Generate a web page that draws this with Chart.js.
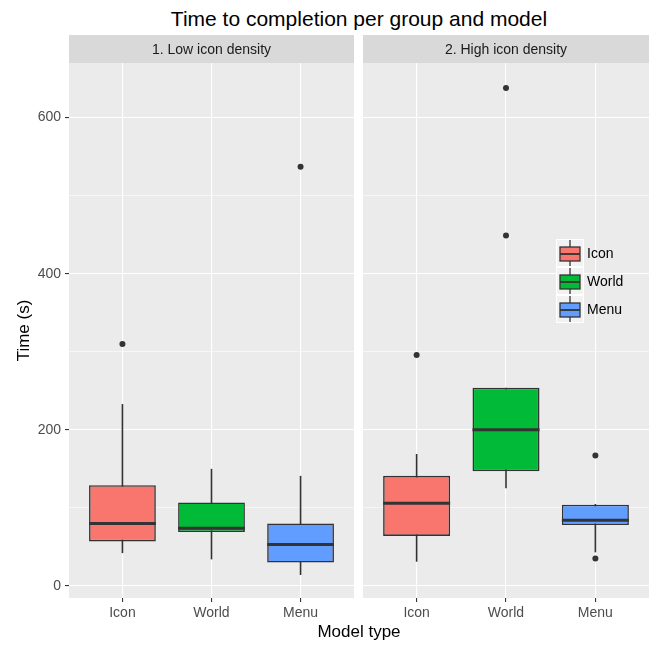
<!DOCTYPE html>
<html>
<head>
<meta charset="utf-8">
<script src="https://cdn.jsdelivr.net/npm/chart.js@4/dist/chart.umd.min.js"></script>
<style>
  body { margin: 0; background: #fff; width: 649px; height: 646px; position: relative; overflow: hidden;
         font-family: "Liberation Sans", Arial, sans-serif; }
  canvas { position: absolute; top: 0; }
  #left { left: 0; }
  #right { left: 358px; }
  .txt { position: absolute; white-space: nowrap; line-height: 1; color: #000; transform: translateX(-50%); }
  #title { left: 359px; top: 8px; font-size: 21px; }
  #xtitle { left: 359px; top: 623px; font-size: 17px; }
</style>
</head>
<body>
<div id="title" class="txt">Time to completion per group and model</div>
<canvas id="left" width="358" height="646"></canvas>
<canvas id="right" width="291" height="646"></canvas>
<div id="xtitle" class="txt">Model type</div>
<script>
const categories = ['Icon', 'World', 'Menu'];
const facetTitles = ['1. Low icon density', '2. High icon density'];
const boxColors = ['#F8766D', '#00BA38', '#619CFF'];
const yTicks = [0, 100, 200, 300, 400, 500, 600];

// 1. Low icon density
const lowWhiskerMin = [42, 34, 14];
const lowQ1 = [57, 69, 30];
const lowMedian = [80, 74, 53];
const lowQ3 = [129, 107, 80];
const lowWhiskerMax = [233, 150, 141];
const lowOutliers = [[310], [], [537]];

// 2. High icon density
const highWhiskerMin = [31, 125, 43];
const highQ1 = [64, 147, 78];
const highMedian = [106, 200, 84];
const highQ3 = [141, 254, 104];
const highWhiskerMax = [169, 254, 105];
const highOutliers = [[296], [449, 638], [35, 167]];

const FONT = '"Liberation Sans", Arial, sans-serif';
const INK = '#333333';

// panel background + facet strip
const panelPlugin = {
  id: 'panel',
  beforeDraw(chart, args, opts) {
    const { ctx, chartArea: a } = chart;
    ctx.save();
    ctx.fillStyle = '#EBEBEB';
    ctx.fillRect(a.left, a.top, a.right - a.left, a.bottom - a.top);
    ctx.fillStyle = '#D9D9D9';
    ctx.fillRect(a.left, opts.stripTop, a.right - a.left, a.top - opts.stripTop);
    ctx.fillStyle = '#1A1A1A';
    ctx.font = '14px ' + FONT;
    ctx.textAlign = 'center';
    ctx.textBaseline = 'middle';
    ctx.fillText(opts.text, (a.left + a.right) / 2, (opts.stripTop + a.top) / 2 + 1);
    ctx.restore();
  }
};

// whiskers under the boxes, medians on top
const boxplotPlugin = {
  id: 'boxplot',
  beforeDatasetsDraw(chart) {
    const ds = chart.data.datasets[0];
    const meta = chart.getDatasetMeta(0);
    const y = chart.scales.y;
    const ctx = chart.ctx;
    ctx.save();
    ctx.strokeStyle = INK;
    ctx.lineWidth = 1.6;
    meta.data.forEach((bar, i) => {
      ctx.beginPath();
      ctx.moveTo(bar.x, y.getPixelForValue(ds.whiskerMax[i]));
      ctx.lineTo(bar.x, y.getPixelForValue(ds.whiskerMin[i]));
      ctx.stroke();
    });
    ctx.restore();
  },
  afterDatasetsDraw(chart) {
    const ds = chart.data.datasets[0];
    const meta = chart.getDatasetMeta(0);
    const y = chart.scales.y;
    const ctx = chart.ctx;
    ctx.save();
    ctx.strokeStyle = INK;
    ctx.lineWidth = 3;
    meta.data.forEach((bar, i) => {
      const py = y.getPixelForValue(ds.median[i]);
      ctx.beginPath();
      ctx.moveTo(bar.x - bar.width / 2, py);
      ctx.lineTo(bar.x + bar.width / 2, py);
      ctx.stroke();
    });
    ctx.restore();
  }
};

// legend drawn inside the right panel
const keyLegendPlugin = {
  id: 'keyLegend',
  afterDraw(chart, args, opts) {
    if (!opts.show) return;
    const ctx = chart.ctx;
    const x0 = opts.x, y0 = opts.y, k = 28;
    ctx.save();
    categories.forEach((c, i) => {
      const ky = y0 + i * k;
      ctx.fillStyle = '#F2F2F2';
      ctx.fillRect(x0, ky, k, k);
      ctx.strokeStyle = '#FFFFFF';
      ctx.lineWidth = 1;
      ctx.strokeRect(x0 + 0.5, ky + 0.5, k - 1, k - 1);
      ctx.strokeStyle = INK;
      ctx.lineWidth = 1.3;
      ctx.beginPath();
      ctx.moveTo(x0 + k / 2, ky + 1);
      ctx.lineTo(x0 + k / 2, ky + k - 1);
      ctx.stroke();
      ctx.fillStyle = boxColors[i];
      ctx.fillRect(x0 + 4, ky + 8, k - 8, k - 14);
      ctx.strokeRect(x0 + 4, ky + 8, k - 8, k - 14);
      ctx.lineWidth = 1.8;
      ctx.beginPath();
      ctx.moveTo(x0 + 4, ky + 15);
      ctx.lineTo(x0 + k - 4, ky + 15);
      ctx.stroke();
      ctx.fillStyle = '#000000';
      ctx.font = '14px ' + FONT;
      ctx.textAlign = 'left';
      ctx.textBaseline = 'middle';
      ctx.fillText(c, x0 + k + 3, ky + k / 2 + 1);
    });
    ctx.restore();
  }
};

function makeFacet(id, facet, stats, isLeft) {
  const outlierPoints = [];
  stats.outliers.forEach((list, i) => list.forEach(v => outlierPoints.push({ x: i + 1, y: v })));
  const isMajor = c => c.tick && c.tick.value % 200 === 0;

  return new Chart(document.getElementById(id), {
    type: 'bar',
    data: {
      datasets: [
        {
          data: categories.map((c, i) => ({ x: i + 1, y: [stats.q1[i], stats.q3[i]] })),
          whiskerMin: stats.whiskerMin,
          whiskerMax: stats.whiskerMax,
          median: stats.median,
          backgroundColor: boxColors,
          borderColor: INK,
          borderWidth: 1.6,
          borderSkipped: false,
          barPercentage: 0.75,
          categoryPercentage: 1
        },
        {
          type: 'scatter',
          data: outlierPoints,
          pointRadius: 3,
          pointBackgroundColor: INK,
          pointBorderWidth: 0
        }
      ]
    },
    options: {
      responsive: false,
      animation: false,
      devicePixelRatio: 1,
      layout: { autoPadding: false, padding: { top: 63, left: 0, right: isLeft ? 4 : 0, bottom: 0 } },
      plugins: {
        legend: { display: false },
        tooltip: { enabled: false },
        panel: { text: facet, stripTop: 35 },
        keyLegend: { show: !isLeft, x: 198, y: 239 }
      },
      scales: {
        x: {
          type: 'linear',
          min: 0.4,
          max: 3.6,
          offset: false,
          afterBuildTicks: s => { s.ticks = categories.map((c, i) => ({ value: i + 1 })); },
          afterFit: s => { s.height = 48; },
          ticks: {
            callback: v => categories[v - 1],
            color: '#4D4D4D',
            font: { size: 14, family: FONT },
            padding: 3,
            autoSkip: false,
            maxRotation: 0
          },
          grid: { offset: false, color: '#FFFFFF', lineWidth: 1.1, tickColor: INK, tickWidth: 1.1, tickLength: 4 },
          border: { display: false }
        },
        y: {
          min: -15.5,
          max: 670,
          afterBuildTicks: s => { s.ticks = yTicks.map(v => ({ value: v })); },
          afterFit: s => { s.width = isLeft ? 69 : 5; },
          ticks: {
            display: isLeft,
            callback: v => (v % 200 === 0 ? v : ''),
            color: '#4D4D4D',
            font: { size: 14, family: FONT },
            padding: 4,
            autoSkip: false
          },
          grid: {
            color: '#FFFFFF',
            lineWidth: c => (isMajor(c) ? 1.1 : 0.55),
            drawTicks: isLeft,
            tickColor: c => (isMajor(c) ? INK : 'rgba(0,0,0,0)'),
            tickWidth: 1.1,
            tickLength: 4
          },
          border: { display: false },
          title: {
            display: isLeft,
            text: 'Time (s)',
            color: '#000000',
            font: { size: 17, family: FONT },
            padding: { top: 14, bottom: 0 }
          }
        }
      }
    },
    plugins: [panelPlugin, boxplotPlugin, keyLegendPlugin]
  });
}

makeFacet('left', facetTitles[0], {
  whiskerMin: lowWhiskerMin, q1: lowQ1, median: lowMedian, q3: lowQ3,
  whiskerMax: lowWhiskerMax, outliers: lowOutliers
}, true);

makeFacet('right', facetTitles[1], {
  whiskerMin: highWhiskerMin, q1: highQ1, median: highMedian, q3: highQ3,
  whiskerMax: highWhiskerMax, outliers: highOutliers
}, false);
</script>
</body>
</html>
